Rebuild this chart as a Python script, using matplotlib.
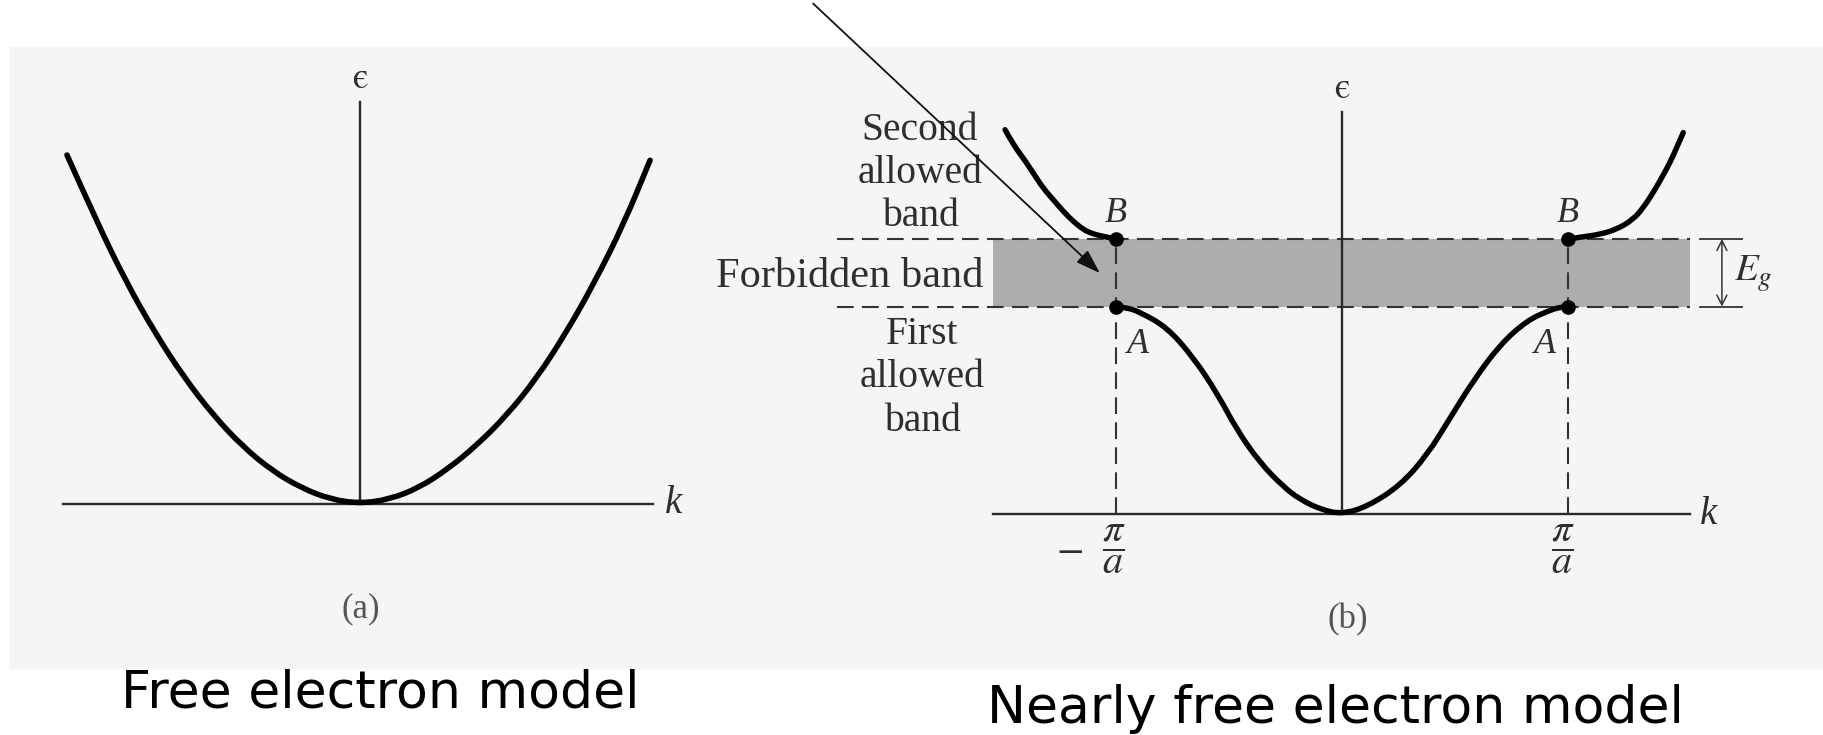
import matplotlib.pyplot as plt
from matplotlib.patches import Rectangle, PathPatch
from matplotlib.path import Path

plt.rcParams['mathtext.fontset'] = 'stix'

# ---- values ----

# (a) free electron model: energy vs k (k and energy scaled to 1 at the curve ends)
k_free = [-1.0, -0.9, -0.8, -0.7, -0.6, -0.5, -0.4, -0.3, -0.2, -0.1, 0.0,
          0.1, 0.2, 0.3, 0.4, 0.5, 0.6, 0.7, 0.8, 0.9, 0.99]
eps_free = [1.01, 0.82, 0.645, 0.495, 0.365, 0.255, 0.165, 0.095, 0.045, 0.012, 0.0,
            0.012, 0.045, 0.10, 0.17, 0.255, 0.36, 0.49, 0.64, 0.81, 0.995]

# (b) nearly free electron model, k in units of pi/a
k_first = [-1.0, -0.95, -0.889, -0.774, -0.658, -0.553, -0.465, -0.363, -0.261, -0.186,
           -0.09, 0.0, 0.111, 0.257, 0.376, 0.478, 0.58, 0.699, 0.819, 0.92, 0.96, 1.0]
eps_first = [1.0, 0.995, 0.970, 0.899, 0.755, 0.583, 0.405, 0.247, 0.133, 0.070,
             0.02, 0.0, 0.035, 0.137, 0.283, 0.462, 0.641, 0.816, 0.933, 0.982, 0.995, 1.0]

k_second_left = [-1.491, -1.454, -1.410, -1.366, -1.322, -1.277, -1.233, -1.189,
                 -1.144, -1.100, -1.056, -1.0]
eps_second_left = [1.852, 1.779, 1.715, 1.643, 1.570, 1.514, 1.458, 1.410,
                   1.370, 1.349, 1.338, 1.325]

k_second_right = [1.0, 1.068, 1.142, 1.216, 1.289, 1.333, 1.377, 1.415, 1.451, 1.481, 1.510]
eps_second_right = [1.325, 1.336, 1.348, 1.372, 1.420, 1.476, 1.549, 1.621, 1.693, 1.766, 1.838]

zone_k = [-1.0, 1.0]       # -pi/a and pi/a
eps_A = 1.0                # top of first allowed band
eps_B = 1.325              # bottom of second allowed band
gap_k = [-1.544, 1.540]    # extent of the shaded forbidden band


def smooth_curve(ax, ks, es, lw, zorder=4):
    # quadratic bezier chain using the read points as control points
    pts = list(zip(ks, es))
    verts = [pts[0]]
    codes = [Path.MOVETO]
    for i in range(1, len(pts) - 1):
        nxt = pts[i + 1]
        mid = ((pts[i][0] + nxt[0]) / 2, (pts[i][1] + nxt[1]) / 2)
        verts += [pts[i], mid]
        codes += [Path.CURVE3, Path.CURVE3]
    verts.append(pts[-1])
    codes.append(Path.LINETO)
    ax.add_patch(PathPatch(Path(verts, codes), fill=False, lw=lw, ec='black',
                           capstyle='round', joinstyle='round', zorder=zorder))


W, H = 1823, 735
fig = plt.figure(figsize=(W / 100, H / 100), dpi=100)

# faint scanned page behind both panels
fig.patches.append(Rectangle((10 / W, (H - 668) / H), 1, (668 - 47) / H,
                             transform=fig.transFigure, color='#f5f5f5', zorder=-10))

axis_col = '#2a2a2a'
txt_col = '#2e2e2e'
serif = 'Liberation Serif'
eps_font = ['STIXGeneral', 'DejaVu Serif']
lunate = '\u03f5'

# ---------------- (a) ----------------
split = 0.42
ax1 = fig.add_axes([0, 0, split, 1])
ax1.axis('off')
ax1.set_xlim(-360 / 293, (split * W - 360) / 293)
ax1.set_ylim((503.5 - H) / 345, 503.5 / 345)

ax1.plot([-1.014, 1.0], [0, 0], color=axis_col, lw=1.7)
ax1.plot([0, 0], [0, 1.164], color=axis_col, lw=1.7)
smooth_curve(ax1, k_free, eps_free, 4.0)
ax1.text(0, 1.228, lunate, family=eps_font, fontsize=26, ha='center', va='center',
         color=txt_col)
ax1.text(1.041, 0.0, 'k', family=serif, style='italic', fontsize=28,
         ha='left', va='center', color=txt_col)
ax1.text(0.003, -0.306, '(a)', family=serif, fontsize=25, ha='center', va='center',
         color='#555555')
ax1.text(0.068, -0.59, 'Free electron model', family='DejaVu Sans', fontsize=37.5,
         ha='center', va='baseline', color='black')

# ---------------- (b) ----------------
ax2 = fig.add_axes([split, 0, 1 - split, 1])
ax2.axis('off')
ax2.set_xlim((split * W - 1342) / 226, (W - 1342) / 226)
ax2.set_ylim((514 - H) / 207.5, 514 / 207.5)

# forbidden band
ax2.add_patch(Rectangle((gap_k[0], eps_A), gap_k[1] - gap_k[0], eps_B - eps_A,
                        facecolor='#adadad', edgecolor='none', zorder=1))
dash = (0, (8, 4))
for e in (eps_A, eps_B):
    ax2.plot([-2.235, gap_k[1]], [e, e], ls=dash, lw=1.5, color='#333333', zorder=2)
    ax2.plot([1.584, 1.770], [e, e], lw=1.3, color='#333333', zorder=2)
for kz in zone_k:
    ax2.plot([kz, kz], [0, eps_B], ls=dash, lw=1.5, color='#333333', zorder=2)

# axes
ax2.plot([gap_k[0], gap_k[1]], [0, 0], color=axis_col, lw=1.7, zorder=3)
ax2.plot([0, 0], [0, 1.935], color=axis_col, lw=1.7, zorder=3)

# bands
smooth_curve(ax2, k_first, eps_first, 3.9)
smooth_curve(ax2, k_second_left, eps_second_left, 3.9)
smooth_curve(ax2, k_second_right, eps_second_right, 3.9)
ax2.plot(zone_k * 2, [eps_A, eps_A, eps_B, eps_B], 'o', ms=9.5, color='black', zorder=5)

# labels
ax2.text(0, 2.046, lunate, family=eps_font, fontsize=26, ha='center', va='center',
         color=txt_col)
ax2.text(1.584, 0.0, 'k', family=serif, style='italic', fontsize=28,
         ha='left', va='center', color=txt_col)
for kz in zone_k:
    ax2.text(kz, 1.405, 'B', family=serif, style='italic', fontsize=26,
             ha='center', va='baseline', color=txt_col)
ax2.text(-0.903, 0.776, 'A', family=serif, style='italic', fontsize=26,
         ha='center', va='baseline', color=txt_col)
ax2.text(0.898, 0.776, 'A', family=serif, style='italic', fontsize=26,
         ha='center', va='baseline', color=txt_col)

for word, e in zip(['Second', 'allowed', 'band'], [1.802, 1.595, 1.388]):
    ax2.text(-1.867, e, word, family=serif, fontsize=28.5, ha='center', va='baseline',
             color=txt_col)
for word, e in zip(['First', 'allowed', 'band'], [0.817, 0.610, 0.402]):
    ax2.text(-1.858, e, word, family=serif, fontsize=28.5, ha='center', va='baseline',
             color=txt_col)
ax2.text(-1.588, 1.096, 'Forbidden band', family=serif, fontsize=30.5, ha='right',
         va='baseline', color=txt_col)

ax2.text(-1.01, -0.17, r'$\dfrac{\pi}{a}$', fontsize=29, ha='center', va='center',
         color=txt_col)
ax2.text(-1.205, -0.17, r'$-$', fontsize=29, ha='center', va='center', color=txt_col)
ax2.text(0.975, -0.17, r'$\dfrac{\pi}{a}$', fontsize=29, ha='center', va='center',
         color=txt_col)

ax2.annotate('', xy=(1.681, eps_B), xytext=(1.681, eps_A),
             arrowprops=dict(arrowstyle='<->,head_length=0.35,head_width=0.18',
                             mutation_scale=20, lw=1.1, color='#333333',
                             shrinkA=0, shrinkB=0))
ax2.text(1.735, 1.157, r'$E_g$', fontsize=28, ha='left', va='center', color=txt_col)

ax2.text(0.027, -0.51, '(b)', family=serif, fontsize=25, ha='center', va='center',
         color='#555555')

# pointer into the forbidden band
ax2.annotate('', xy=(-1.071, 1.161), xytext=(-2.34, 2.46), annotation_clip=False,
             arrowprops=dict(arrowstyle='-|>,head_length=0.75,head_width=0.25',
                             mutation_scale=20, lw=1.3, color='#111111',
                             shrinkA=0, shrinkB=0), zorder=6)

ax2.text(-0.027, -1.007, 'Nearly free electron model', family='DejaVu Sans',
         fontsize=37.5, ha='center', va='baseline', color='black')

fig.savefig('out.png', dpi=100)
